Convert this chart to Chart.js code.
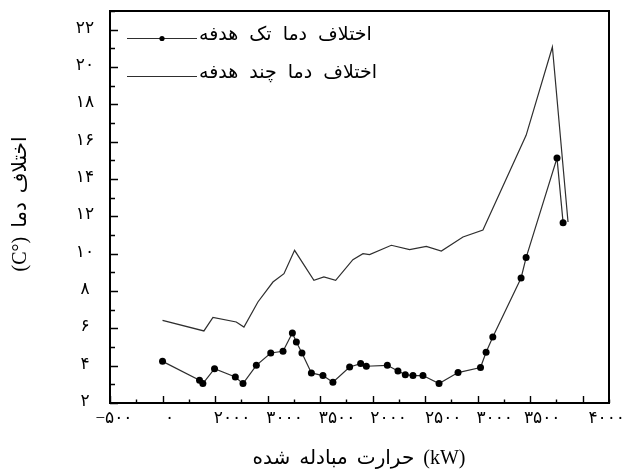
<!DOCTYPE html>
<html>
<head>
<meta charset="utf-8">
<script src="https://cdn.jsdelivr.net/npm/chart.js@4.4.1/dist/chart.umd.min.js"></script>
<style>
html,body{margin:0;padding:0;background:#fff;}
canvas{display:block;}
</style>
</head>
<body>
<canvas id="c" width="629" height="474"></canvas>
<script>
// Heat exchanged (kW) and temperature difference (°C) per run
const singleX = [0, 352, 384, 495, 693, 766, 893, 1030, 1147, 1236, 1274, 1327, 1417, 1527, 1622, 1781, 1886, 1940, 2140, 2241, 2311, 2384, 2479, 2632, 2813, 3027, 3080, 3144, 3413, 3461, 3755, 3813];
const singleY = [4.23, 3.22, 3.04, 3.84, 3.39, 3.04, 4.02, 4.68, 4.77, 5.75, 5.27, 4.68, 3.61, 3.47, 3.11, 3.93, 4.11, 3.97, 4.02, 3.71, 3.52, 3.47, 3.47, 3.04, 3.63, 3.90, 4.72, 5.54, 8.70, 9.79, 15.12, 11.66];
const multiX = [0, 394, 480, 702, 775, 908, 1051, 1156, 1257, 1441, 1536, 1648, 1812, 1908, 1971, 2178, 2352, 2511, 2654, 2860, 3050, 3461, 3711, 3860];
const multiY = [6.43, 5.86, 6.58, 6.34, 6.07, 7.41, 8.48, 8.93, 10.18, 8.57, 8.75, 8.57, 9.68, 10.00, 9.95, 10.45, 10.22, 10.39, 10.14, 10.89, 11.27, 16.34, 21.07, 11.70];

const seriesNames = ['اختلاف دما تک هدفه', 'اختلاف دما چند هدفه'];

const xTickValues = [-500, 0, 500, 1000, 1500, 2000, 2500, 3000, 3500, 4000];
const xTickLabels = ['−۵۰۰', '۰', '۲۰۰۰', '۳۰۰۰', '۳۵۰۰', '۲۰۰۰', '۲۵۰۰', '۳۰۰۰', '۳۵۰۰', '۴۰۰۰'];
const yTickValues = [2, 4, 6, 8, 10, 12, 14, 16, 18, 20, 22];
const yTickLabels = ['۲', '۴', '۶', '۸', '۱۰', '۱۲', '۱۴', '۱۶', '۱۸', '۲۰', '۲۲'];

const xTitle = 'حرارت مبادله شده (kW)';
const yTitle = 'اختلاف دما (°C)';

const RLE = '\u202B', PDF = '\u202C';
const LINE = '#2e2e2e';

// Frame, inward ticks, tick labels, titles and the in-plot legend
const decor = {
  id: 'decor',
  afterDatasetsDraw(chart, args, o) {
    const { ctx, chartArea: a, scales: { x, y } } = chart;
    ctx.save();

    // minor/major ticks pointing into the plot
    ctx.strokeStyle = '#000';
    ctx.lineWidth = 1.4;
    ctx.beginPath();
    for (let v = x.min; v <= x.max + 1e-6; v += o.xMinorStep) {
      const px = Math.round(x.getPixelForValue(v)) + 0.5;
      const len = (Math.abs(v % 500) < 1e-6) ? 7 : 3.5;
      ctx.moveTo(px, a.bottom);
      ctx.lineTo(px, a.bottom - len);
    }
    for (let v = y.min; v <= y.max + 1e-6; v += o.yMinorStep) {
      const py = Math.round(y.getPixelForValue(v)) + 0.5;
      const len = (Math.abs(v % 2) < 1e-6) ? 8 : 5;
      ctx.moveTo(a.left, py);
      ctx.lineTo(a.left + len, py);
    }
    ctx.stroke();

    // frame
    ctx.lineWidth = 2;
    ctx.strokeRect(a.left, a.top, a.right - a.left, a.bottom - a.top);

    // tick labels
    ctx.fillStyle = '#000';
    ctx.font = o.tickFont;
    ctx.letterSpacing = '2px';
    ctx.textAlign = 'center';
    ctx.textBaseline = 'alphabetic';
    xTickValues.forEach((v, i) => {
      ctx.fillText(xTickLabels[i], x.getPixelForValue(v) + o.xLabelShift[i], a.bottom + 20);
    });
    yTickValues.forEach((v, i) => {
      ctx.fillText(yTickLabels[i], 85, y.getPixelForValue(v) + 3);
    });
    ctx.letterSpacing = '0px';

    // axis titles
    ctx.font = o.titleFont;
    ctx.wordSpacing = '4px';
    ctx.textBaseline = 'middle';
    ctx.fillText(xTitle, 359, 459);
    ctx.save();
    ctx.translate(21, 204);
    ctx.rotate(-Math.PI / 2);
    ctx.fillText(RLE + yTitle + PDF, 0, 0);
    ctx.restore();

    // legend
    ctx.font = o.legendFont;
    ctx.wordSpacing = '5px';
    ctx.textAlign = 'left';
    const rows = [38, 76];
    chart.data.datasets.forEach((ds, i) => {
      const ly = rows[i] + 0.5;
      ctx.strokeStyle = LINE;
      ctx.lineWidth = 1.2;
      ctx.beginPath();
      ctx.moveTo(127, ly);
      ctx.lineTo(197, ly);
      ctx.stroke();
      if (ds.pointRadius > 0) {
        ctx.fillStyle = '#000';
        ctx.beginPath();
        ctx.arc(162, ly, 2.6, 0, Math.PI * 2);
        ctx.fill();
      }
      ctx.fillStyle = '#000';
      ctx.fillText(ds.label, 199, rows[i] - 3);
    });

    ctx.restore();
  }
};

const toPoints = (xs, ys) => xs.map((v, i) => ({ x: v, y: ys[i] }));

new Chart(document.getElementById('c'), {
  type: 'line',
  data: {
    datasets: [
      {
        label: seriesNames[0],
        data: toPoints(singleX, singleY),
        borderColor: LINE,
        borderWidth: 1.2,
        pointRadius: 3.5,
        pointBackgroundColor: '#000',
        pointBorderWidth: 0,
        tension: 0
      },
      {
        label: seriesNames[1],
        data: toPoints(multiX, multiY),
        borderColor: LINE,
        borderWidth: 1.2,
        pointRadius: 0,
        tension: 0
      }
    ]
  },
  options: {
    responsive: false,
    animation: false,
    events: [],
    layout: { padding: { top: 11, right: 20, left: 0, bottom: 0 } },
    plugins: {
      legend: { display: false },
      tooltip: { enabled: false },
      decor: {
        xMinorStep: 250,
        yMinorStep: 1,
        xLabelShift: [4, 7, 17, 17, 17, 16, 18, 17, 12, 24],
        tickFont: "17px 'Liberation Serif', 'DejaVu Sans'",
        titleFont: "20px 'Liberation Serif', 'DejaVu Sans'",
        legendFont: "19px 'DejaVu Sans'"
      }
    },
    scales: {
      x: {
        type: 'linear',
        min: -500,
        max: 4250,
        grid: { display: false },
        border: { display: false },
        ticks: { display: false },
        afterFit(s) { s.height = 71; }
      },
      y: {
        type: 'linear',
        min: 2,
        max: 23,
        grid: { display: false },
        border: { display: false },
        ticks: { display: false },
        afterFit(s) { s.width = 110; }
      }
    }
  },
  plugins: [decor]
});
</script>
</body>
</html>
